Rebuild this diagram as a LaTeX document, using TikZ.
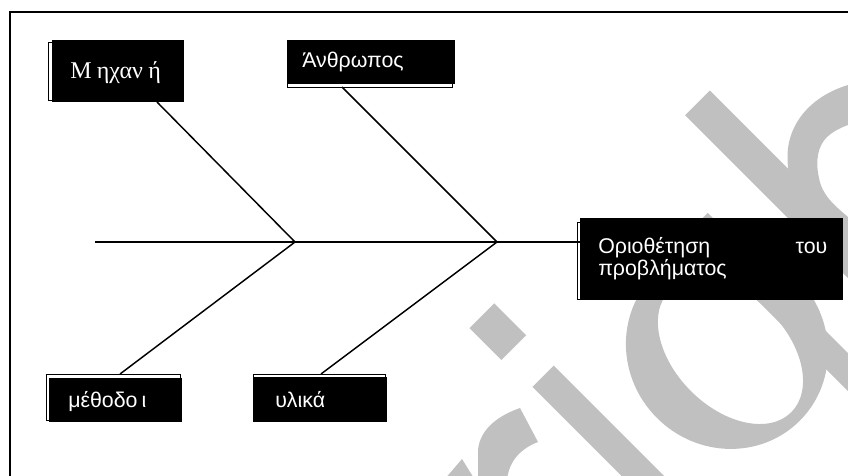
\documentclass[tikz,border=0pt]{standalone}
\usepackage{fontspec}
\usetikzlibrary{calc}
\setmainfont{Liberation Serif}
\newfontfamily\pixfont{Liberation Sans}
\definecolor{wm}{HTML}{C0C0C0}
\newcommand{\uvbar}[4]{\fill[wm] (#1,#2) -- (#3,#2) -- (#3,#4) -- (#1,#4) -- cycle;}
\begin{document}
\begin{tikzpicture}[x=0.75pt,y=-0.75pt,
  blk/.style={fill=black, inner sep=0pt, outer sep=0pt, anchor=north west},
  outl/.style={draw=black, line width=0.6pt},
  bone/.style={line width=1.1pt, draw=black},
  lbl/.style={text=white, inner sep=0pt, anchor=base west, font=\pixfont\fontsize{16pt}{19pt}\selectfont},
  serlbl/.style={text=white, inner sep=0pt, anchor=base west, font=\fontsize{18pt}{21pt}\selectfont}]
\useasboundingbox (0,0) rectangle (848,475);
% ---------- watermark ----------
\begin{scope}
\clip (0,0) rectangle (848,475);
\begin{scope}[x={(0.53033pt,0.53033pt)}, y={(0.53033pt,-0.53033pt)}]
  \fill[wm, even odd rule] (268,760) ellipse [x radius=99, y radius=103]
                           (268,765) ellipse [x radius=56, y radius=86];
  \uvbar{323}{651}{350}{878}
  \uvbar{403}{566}{438}{1100}
  \uvbar{103}{650}{133}{1100}
  \uvbar{100}{564}{135}{609}
\end{scope}
\fill[wm] (478,480) -- (478,450) .. controls (480,428) and (500,415) .. (520,408)
          -- (538,442) .. controls (522,448) and (509,460) .. (507,480) -- cycle;
\fill[wm] (462,459) -- (475,480) -- (444,480) -- cycle;
\fill[wm] (870,78) -- (848,85) .. controls (815,95) and (792,118) .. (788,148)
          .. controls (786,168) and (790,182) .. (797,192) -- (848,243) -- (870,243)
          -- (870,230) -- (848,217) .. controls (834,205) and (822,195) .. (819,178)
          .. controls (815,160) and (818,146) .. (827,137)
          .. controls (835,130) and (842,126) .. (870,118) -- cycle;
% outer frame
\draw[line width=2pt] (10,12) rectangle (870,495);
\end{scope}
% ---------- fishbone ----------
\coordinate (S) at (95,242);
\coordinate (J1) at (295,242);
\coordinate (J2) at (497,242);
% box outlines (shadow frames)
\draw[outl] (48,42) rectangle (182,100);
\draw[outl] (287,43) rectangle (452,87);
\draw[outl] (577,222) rectangle (841,299);
\draw[outl] (46,374) rectangle (180,420);
\draw[outl] (253,374) rectangle (385,420);
% boxes
\node[blk, minimum width=99pt, minimum height=46.5pt] (mbox) at (52,40) {};
\node[blk, minimum width=126pt, minimum height=33pt] (abox) at (287,40) {};
\node[blk, minimum width=197.25pt, minimum height=61.5pt] (obox) at (580,218) {};
\node[blk, minimum width=99.75pt, minimum height=33pt] (mubox) at (49,378) {};
\node[blk, minimum width=100.5pt, minimum height=33.75pt] (ybox) at (253,377) {};
% bones
\draw[bone] (S) -- (S -| obox.west);
\draw[bone] ($(mbox.south west)+(105,0)$) -- (J1);
\draw[bone] ($(abox.south west)+(55,3)$) -- (J2);
\draw[bone] (J1) -- ($(mubox.north west)+(71,-4)$);
\draw[bone] (J2) -- ($(ybox.north west)+(68,-3)$);
% labels
\node[serlbl] (mt) at (70,78) {Μ\hspace{4pt}ηχαν\hspace{4pt}ή};
\node[lbl] (at) at (302,67) {Άνθρωπος};
\node[lbl] (ot1) at (598,253) {\makebox[171.75pt][s]{Οριοθέτηση\hfill του}};
\node[lbl] (ot2) at (598,275) {προβλήματος};
\node[lbl] (mut) at (68,407) {μέθοδο\hspace{3pt}ι};
\node[lbl] (yt) at (275,407) {υλικά};
\end{tikzpicture}
\end{document}
